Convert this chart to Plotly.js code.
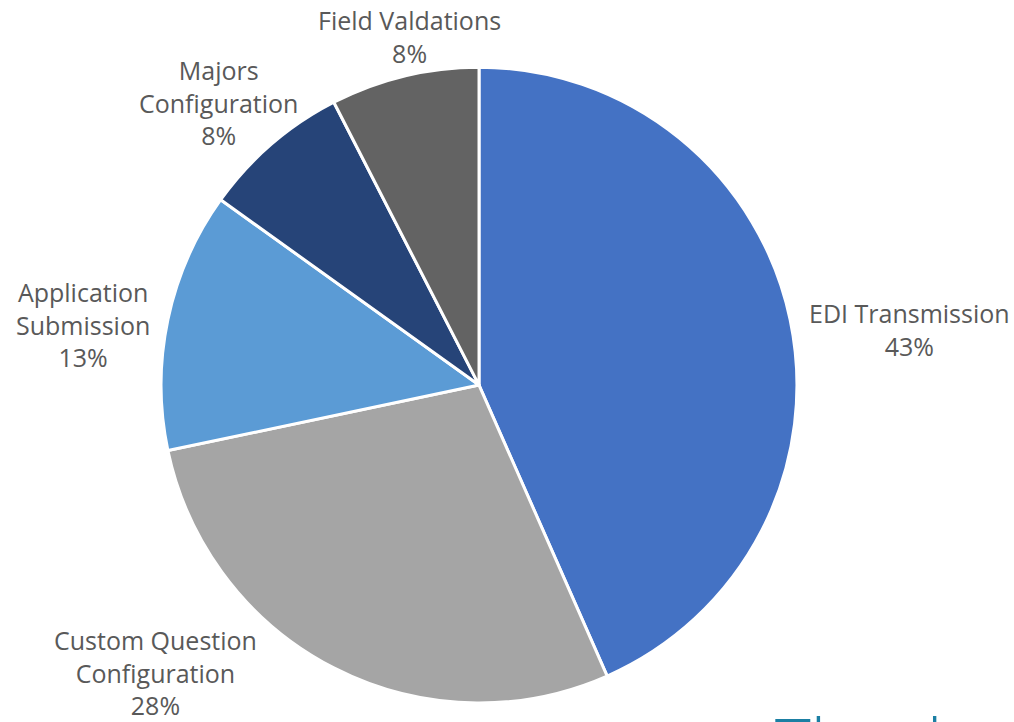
<!DOCTYPE html>
<html>
<head>
<meta charset="utf-8">
<script src="https://cdn.plot.ly/plotly-3.0.1.min.js"></script>
<style>html,body{margin:0;padding:0;background:#fff;}#chart{width:1014px;height:722px;}</style>
</head>
<body>
<div id="chart"></div>
<script>
const categories = ["EDI Transmission", "Custom Question<br>Configuration", "Application<br>Submission", "Majors<br>Configuration", "Field Valdations"];
const values = [23, 15, 7, 4, 4];
const colors = ["#4472C4", "#A5A5A5", "#5B9BD5", "#264478", "#636363"];

const total = values.reduce((a, b) => a + b, 0);

const trace = {
  type: "pie",
  labels: categories,
  values: values,
  sort: false,
  direction: "clockwise",
  rotation: 0,
  marker: {colors: colors, line: {color: "#ffffff", width: 3}},
  textinfo: "none",
  hoverinfo: "label+percent",
  automargin: false,
  domain: {x: [0.1588, 0.7860], y: [0.0263, 0.907]}
};

// label block centres (paper fractions)
const labelX = [0.8965, 0.1538, 0.0819, 0.2150, 0.4043];
const labelY = [0.5443, 0.0679, 0.5499, 0.8587, 0.9488];

const annotations = categories.map((c, i) => ({
  text: c + "<br>" + Math.round(values[i] / total * 100) + "%",
  xref: "paper", yref: "paper", x: labelX[i], y: labelY[i],
  xanchor: "center", yanchor: "middle", showarrow: false,
  font: {family: "Open Sans, Liberation Sans, sans-serif", size: 25, color: "#595959"}
}));

annotations.push({
  text: "Thank you", xref: "paper", yref: "paper", x: 0.762, y: 0.0395,
  xanchor: "left", yanchor: "top", showarrow: false,
  font: {family: "Open Sans, sans-serif", size: 68, weight: 300, color: "#1B7FA3"}
});

const layout = {
  width: 1014, height: 722,
  margin: {l: 0, r: 0, t: 0, b: 0},
  showlegend: false,
  paper_bgcolor: "#ffffff",
  annotations: annotations
};

Plotly.newPlot("chart", [trace], layout, {displayModeBar: false, staticPlot: true});
</script>
</body>
</html>
